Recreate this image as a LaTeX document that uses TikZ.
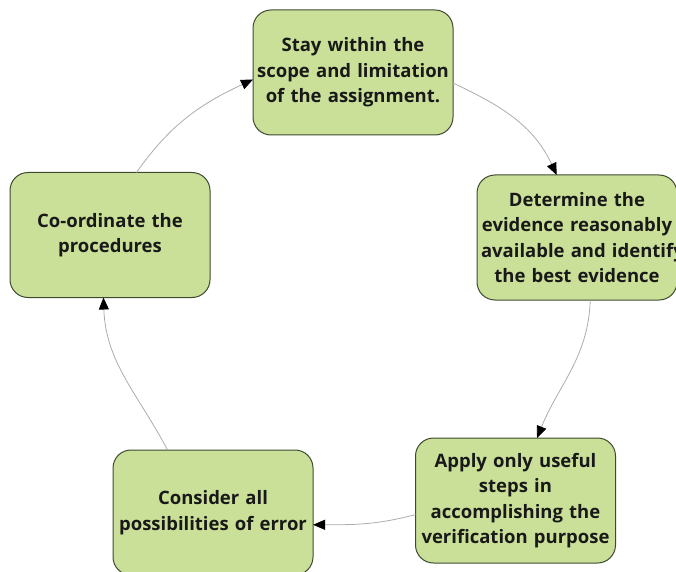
\documentclass[tikz,border=0pt]{standalone}
\usepackage{fontspec}
\setmainfont{Open Sans}
\usetikzlibrary{arrows.meta}
\definecolor{boxgreen}{RGB}{202,224,152}
\definecolor{boxline}{RGB}{62,74,48}
\definecolor{linkgray}{RGB}{172,172,172}
\begin{document}
\begin{tikzpicture}[x=1pt,y=1pt,inner sep=0pt,outer sep=0pt,
stepbox/.style={draw=boxline,fill=boxgreen,rectangle,rounded corners=18pt,line width=1pt,
  minimum width=200pt,minimum height=125pt,text width=192pt,align=center,
  font=\fontsize{18.5}{25.5}\selectfont\bfseries,text=black!90},
link/.style={draw=linkgray,line width=0.8pt,-{Triangle[length=12pt,width=10pt,color=black]}}]
\useasboundingbox (0,0) rectangle (676,571);

\draw (353,498.5) node[stepbox] (top) {Stay within the\\ scope and limitation\\ of the assignment.};
\draw (577,333.5) node[stepbox] (right) {Determine the\\ evidence reasonably\\ \mbox{available and identify}\\ the best evidence};
\draw (515.5,70.5) node[stepbox] (bright) {Apply only useful\\ steps in\\ accomplishing the\\ verification purpose};
\draw (213,58.5) node[stepbox] (bleft) {Consider all\\ possibilities of error};
\draw (110,336) node[stepbox] (left) {Co-ordinate the\\ procedures};

\draw[link] (left.67) to[out=55,in=205] (top.184);
\draw[link] (top.-6) to[out=-25,in=115] (right.108);
\draw[link] (right.-78) to[out=-92,in=68] (bright.71);
\draw[link] (bright.188) to[out=195,in=0] (bleft.-7);
\draw[link] (bleft.126) to[out=118,in=-88] (left.-96);

\end{tikzpicture}
\end{document}
